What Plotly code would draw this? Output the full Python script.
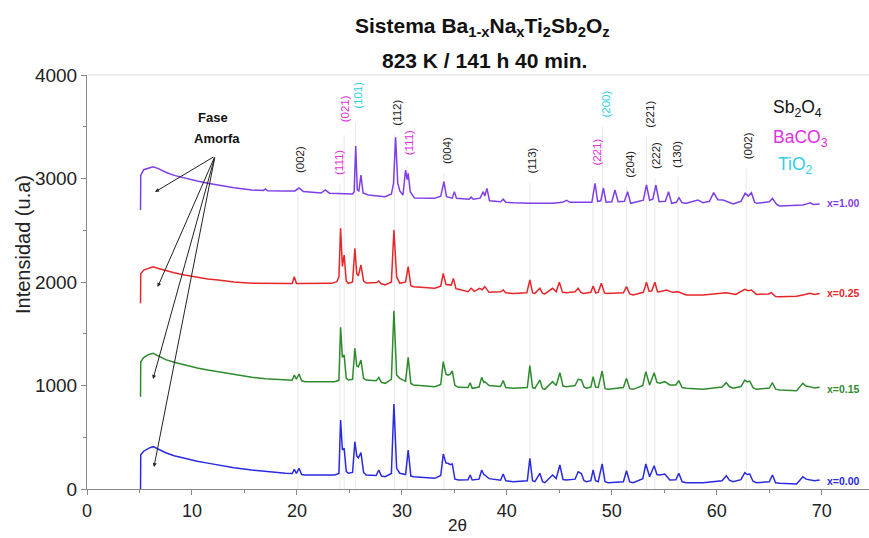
import plotly.graph_objects as go

# ---------------- data ----------------
tt_100 = [5.1, 5.12, 5.4, 5.9, 6.3, 6.8, 7.5, 8.3, 9.3, 10.5,
          11.5, 12.5, 14.0, 15.7, 16.8, 17.0, 17.2, 18.9, 19.8, 20.2,
          20.6, 22.3, 22.7, 23.1, 25.3, 25.45, 25.6, 25.75, 25.9, 26.1,
          26.3, 26.8, 28.4, 29.0, 29.2, 29.4, 29.6, 29.8, 30.1, 30.35,
          30.5, 30.6, 30.8, 31.2, 33.1, 33.7, 34.0, 34.25, 34.8, 35.0,
          35.2, 36.4, 36.6, 36.8, 37.45, 37.75, 37.9, 38.1, 38.35, 39.4,
          39.65, 39.9, 40.6, 42.2, 44.4, 45.3, 45.7, 46.0, 47.6, 48.1,
          48.4, 48.65, 48.95, 49.2, 49.45, 50.0, 50.3, 50.6, 51.2, 51.5,
          51.8, 53.0, 53.3, 53.6, 53.9, 54.2, 54.5, 55.1, 55.4, 55.7,
          56.15, 56.4, 56.7, 57.1, 58.2, 58.7, 59.3, 59.7, 60.1, 60.6,
          61.55, 62.3, 62.7, 63.0, 63.3, 63.6, 63.8, 65.0, 65.3, 65.7,
          66.0, 67.6, 68.2, 68.6, 68.9, 69.2, 69.8]
ii_100 = [2696, 3030, 3085, 3105, 3114, 3095, 3060, 3030, 3002, 2975,
          2955, 2937, 2910, 2889, 2885, 2900, 2882, 2879, 2880, 2908,
          2875, 2860, 2889, 2858, 2850, 2870, 3314, 2890, 2880, 3034,
          2860, 2841, 2824, 2850, 2950, 3398, 2960, 2880, 2840, 3082,
          2990, 3050, 2870, 2811, 2808, 2830, 2969, 2825, 2810, 2873,
          2808, 2800, 2820, 2800, 2810, 2873, 2830, 2905, 2785, 2775,
          2800, 2770, 2765, 2762, 2760, 2770, 2790, 2770, 2766, 2770,
          2954, 2780, 2785, 2908, 2770, 2775, 2889, 2776, 2780, 2873,
          2760, 2790, 2937, 2790, 2800, 2937, 2776, 2780, 2873, 2760,
          2770, 2815, 2765, 2760, 2792, 2766, 2780, 2863, 2795, 2792,
          2754, 2780, 2857, 2830, 2863, 2770, 2760, 2775, 2808, 2750,
          2734, 2744, 2744, 2755, 2766, 2750, 2754]

tt_025 = [5.1, 5.12, 5.4, 5.9, 6.3, 6.8, 7.5, 8.3, 9.3, 10.5,
          11.5, 12.5, 14.0, 15.7, 18.9, 19.55, 19.75, 19.95, 23.3, 23.8,
          24.0, 24.16, 24.33, 24.5, 24.7, 24.9, 25.3, 25.52, 25.7, 25.85,
          26.1, 26.35, 26.6, 27.6, 27.8, 28.0, 28.4, 29.0, 29.24, 29.5,
          29.8, 30.35, 30.6, 30.85, 31.1, 33.14, 33.7, 33.94, 34.2, 34.4,
          34.7, 34.9, 35.15, 35.4, 36.3, 36.6, 36.9, 37.4, 37.65, 37.9,
          38.3, 39.4, 39.65, 39.9, 40.6, 41.9, 42.19, 42.45, 42.67, 43.14,
          43.4, 43.62, 44.35, 44.7, 45.0, 45.3, 45.68, 46.5, 46.79, 47.05,
          47.3, 48.0, 48.22, 48.45, 48.7, 49.0, 49.3, 49.5, 51.1, 51.4,
          51.7, 52.03, 53.0, 53.3, 53.55, 53.8, 54.1, 54.35, 54.57, 55.2,
          55.8, 56.3, 57.1, 58.7, 60.9, 61.8, 62.67, 63.0, 63.3, 63.78,
          64.9, 65.2, 65.6, 66.0, 67.6, 68.2, 68.86, 69.3, 69.8]
ii_025 = [1794, 2080, 2115, 2135, 2148, 2130, 2110, 2090, 2068, 2045,
          2030, 2019, 2000, 1987, 1981, 1985, 2051, 1985, 1987, 2003,
          2050, 2519, 2150, 2261, 2010, 1987, 2000, 2325, 2080, 2060,
          2164, 2010, 1990, 1995, 2010, 1985, 1971, 2000, 2502, 2050,
          1987, 2000, 2148, 1965, 1955, 1939, 1960, 2084, 1975, 1971,
          1970, 2035, 1935, 1930, 1906, 1939, 1910, 1939, 1925, 1955,
          1900, 1905, 1923, 1895, 1890, 1895, 2019, 1895, 1890, 1939,
          1890, 1885, 1939, 1905, 1997, 1900, 1897, 1905, 1939, 1900,
          1890, 1900, 1961, 1895, 1900, 1987, 1895, 1890, 1895, 1955,
          1885, 1874, 1900, 1997, 1910, 1912, 1997, 1906, 1906, 1923,
          1900, 1906, 1874, 1874, 1897, 1880, 1929, 1915, 1923, 1880,
          1885, 1897, 1860, 1858, 1862, 1875, 1890, 1880, 1890]

tt_015 = [5.1, 5.12, 5.4, 5.9, 6.3, 6.8, 7.5, 8.3, 9.3, 10.5,
          11.5, 12.5, 14.0, 15.7, 17.0, 18.9, 19.55, 19.75, 19.95, 20.2,
          20.45, 20.76, 23.6, 24.0, 24.16, 24.33, 24.5, 24.7, 24.9, 25.3,
          25.52, 25.7, 25.85, 26.1, 26.35, 26.6, 27.55, 27.8, 28.05, 28.4,
          29.0, 29.24, 29.5, 29.8, 30.35, 30.6, 30.85, 31.1, 33.14, 33.7,
          33.94, 34.2, 34.4, 34.6, 34.8, 35.05, 35.4, 36.3, 36.5, 36.7,
          37.35, 37.6, 37.8, 37.9, 38.3, 39.4, 39.65, 39.9, 40.6, 41.95,
          42.19, 42.45, 42.67, 43.14, 43.4, 43.62, 44.35, 44.7, 45.05, 45.35,
          45.68, 46.5, 46.79, 47.1, 47.35, 47.6, 48.0, 48.22, 48.45, 48.7,
          49.08, 49.35, 49.65, 51.1, 51.4, 51.7, 52.03, 52.95, 53.24, 53.6,
          54.03, 54.3, 54.57, 55.05, 55.52, 56.1, 56.38, 56.7, 57.1, 58.7,
          60.5, 60.9, 61.2, 61.55, 62.3, 62.67, 62.9, 63.14, 63.45, 63.78,
          65.0, 65.3, 65.6, 66.0, 67.6, 68.2, 68.5, 68.86, 69.3, 69.8]
ii_015 = [892, 1230, 1270, 1300, 1311, 1285, 1250, 1225, 1198, 1170,
          1150, 1134, 1105, 1079, 1065, 1053, 1050, 1101, 1060, 1111,
          1045, 1037, 1037, 1050, 1562, 1272, 1295, 1070, 1053, 1060,
          1359, 1190, 1180, 1246, 1070, 1053, 1045, 1079, 1030, 1021,
          1060, 1723, 1100, 1069, 1040, 1272, 1020, 1005, 989, 1010,
          1230, 1110, 1100, 1110, 1140, 1000, 982, 980, 1027, 973,
          985, 1079, 1030, 1037, 1000, 990, 1047, 980, 973, 980,
          1192, 980, 973, 1053, 970, 963, 1037, 1000, 1124, 995,
          989, 1000, 1060, 1053, 985, 973, 985, 1085, 985, 982,
          1140, 970, 963, 980, 1069, 970, 963, 1000, 1134, 1005,
          1124, 1030, 1021, 1037, 1005, 1005, 1047, 980, 973, 963,
          985, 1027, 990, 973, 990, 1053, 1035, 1043, 980, 963,
          975, 1027, 965, 957, 950, 1021, 995, 989, 975, 982]

tt_000 = [5.1, 5.12, 5.4, 5.9, 6.3, 6.8, 7.5, 8.3, 9.3, 10.5,
          11.5, 12.5, 14.0, 15.7, 17.0, 18.9, 19.55, 19.75, 19.95, 20.2,
          20.45, 20.76, 23.6, 24.0, 24.16, 24.33, 24.5, 24.7, 24.9, 25.3,
          25.52, 25.7, 25.85, 26.1, 26.35, 26.6, 27.55, 27.8, 28.05, 28.4,
          29.0, 29.24, 29.5, 29.8, 30.35, 30.6, 30.85, 31.1, 33.14, 33.7,
          33.94, 34.2, 34.4, 34.6, 34.8, 35.05, 35.4, 36.3, 36.5, 36.7,
          37.35, 37.6, 37.8, 37.9, 38.3, 39.4, 39.65, 39.9, 40.6, 41.95,
          42.19, 42.45, 42.67, 43.14, 43.4, 43.62, 44.35, 44.7, 45.05, 45.35,
          45.68, 46.5, 46.79, 47.1, 47.35, 47.6, 48.0, 48.22, 48.45, 48.7,
          49.08, 49.35, 49.65, 51.1, 51.4, 51.7, 52.03, 52.95, 53.24, 53.6,
          54.03, 54.3, 54.57, 55.05, 55.52, 56.1, 56.38, 56.7, 57.1, 58.7,
          60.5, 60.9, 61.2, 61.55, 62.3, 62.67, 62.9, 63.14, 63.45, 63.78,
          65.0, 65.3, 65.6, 66.0, 67.6, 68.2, 68.5, 68.86, 69.3, 69.8]
ii_000 = [0, 330, 365, 395, 409, 385, 350, 322, 296, 268,
          250, 232, 205, 184, 168, 152, 150, 190, 150, 200,
          140, 135, 135, 150, 667, 377, 393, 170, 152, 160,
          457, 320, 300, 351, 160, 135, 130, 184, 125, 119,
          150, 821, 200, 152, 140, 377, 125, 119, 103, 130,
          338, 250, 248, 235, 242, 95, 87, 90, 135, 87,
          95, 184, 140, 135, 100, 85, 145, 80, 71, 80,
          296, 80, 71, 152, 70, 61, 135, 100, 232, 92,
          87, 95, 167, 150, 80, 71, 80, 184, 80, 71,
          242, 70, 61, 70, 177, 68, 61, 100, 242, 119,
          225, 140, 135, 145, 87, 90, 152, 70, 61, 61,
          80, 129, 85, 71, 90, 158, 140, 145, 75, 61,
          70, 135, 60, 55, 48, 119, 95, 87, 80, 87]

series_names = ["x=1.00", "x=0.25", "x=0.15", "x=0.00"]
series_x = [tt_100, tt_025, tt_015, tt_000]
series_y = [ii_100, ii_025, ii_015, ii_000]
series_colors = ["#7f3fe6", "#e8262a", "#2e8b2e", "#2a2ae0"]
label_y = [2763, 1897, 966, 77]

# peak labels: text, 2theta position, intensity (centre of label), phase
peak_text = ["(002)", "(111)", "(021)", "(101)", "(112)", "(111)", "(004)", "(113)",
             "(221)", "(200)", "(204)", "(221)", "(222)", "(130)", "(002)"]
peak_pos = [20.3, 24.0, 24.6, 25.8, 29.55, 30.7, 34.25, 42.4,
            48.5, 49.4, 51.7, 53.6, 54.2, 56.2, 63.0]
peak_lab_y = [3179, 3159, 3671, 3807, 3638, 3343, 3270, 3174,
              3251, 3720, 3140, 3623, 3227, 3237, 3314]
peak_phase = ["Sb2O4", "BaCO3", "BaCO3", "TiO2", "Sb2O4", "BaCO3", "Sb2O4", "Sb2O4",
              "BaCO3", "TiO2", "Sb2O4", "Sb2O4", "Sb2O4", "Sb2O4", "Sb2O4"]
phase_colors = {"Sb2O4": "#222222", "BaCO3": "#e030e0", "TiO2": "#30d0e6"}

# guide lines at peak positions
guide_pos = [20.1, 24.1, 24.5, 25.6, 29.3, 30.5, 34.0, 42.2, 48.2, 49.1, 51.4, 53.3, 54.1, 56.3, 62.8]
guide_top = [2950, 2950, 3420, 3540, 3420, 3120, 3050, 2960, 3030, 3500, 2920, 3400, 3000, 3020, 3100]

# "Fase Amorfa" arrow targets
arrow_tail = (12.2, 3217)
arrow_heads = [(6.48, 2870), (6.73, 1952), (6.29, 1063), (6.38, 213)]

FONT = "Arial, Liberation Sans, Helvetica, sans-serif"

fig = go.Figure()

for gx, gt in zip(guide_pos, guide_top):
    fig.add_shape(type="line", x0=gx, x1=gx, y0=0, y1=gt, xref="x", yref="y",
                  line=dict(color="rgba(180,180,180,0.3)", width=1), layer="below")

for xs, ys, col, nm in zip(series_x, series_y, series_colors, series_names):
    fig.add_trace(go.Scatter(x=xs, y=ys, mode="lines", name=nm,
                             line=dict(color=col, width=1.5), showlegend=False))

ann = []
for nm, col, ly in zip(series_names, series_colors, label_y):
    ann.append(dict(x=70.3, y=ly, xref="x", yref="y", text="<b>%s</b>" % nm, showarrow=False,
                    xanchor="left", yanchor="middle", font=dict(size=10.5, color=col, family=FONT)))

for t, px, py, ph in zip(peak_text, peak_pos, peak_lab_y, peak_phase):
    ann.append(dict(x=px, y=py, xref="x", yref="y", text=t, showarrow=False, textangle=-90,
                    xanchor="center", yanchor="middle",
                    font=dict(size=11.5, color=phase_colors[ph], family=FONT)))

# phase legend
ann.append(dict(x=797, y=108, text="Sb<sub>2</sub>O<sub>4</sub>", font=dict(size=17.5, color="#111111", family=FONT)))
ann.append(dict(x=800, y=138, text="BaCO<sub>3</sub>", font=dict(size=17.5, color="#e030e0", family=FONT)))
ann.append(dict(x=795, y=165, text="TiO<sub>2</sub>", font=dict(size=17.5, color="#30d0e6", family=FONT)))

# Fase Amorfa
ann.append(dict(x=213, y=117, text="<b>Fase</b>", font=dict(size=13, color="#111111", family=FONT)))
ann.append(dict(x=217, y=138, text="<b>Amorfa</b>", font=dict(size=13, color="#111111", family=FONT)))

# titles
ann.append(dict(x=482, y=27, text="<b>Sistema Ba<sub>1-x</sub>Na<sub>x</sub>Ti<sub>2</sub>Sb<sub>2</sub>O<sub>z</sub></b>",
                font=dict(size=21, color="#111111", family=FONT)))
ann.append(dict(x=484, y=60, text="<b>823 K / 141 h 40 min.</b>", font=dict(size=21, color="#111111", family=FONT)))
ann.append(dict(x=23, y=245, text="Intensidad (u.a)", textangle=-90, font=dict(size=20, color="#222222", family=FONT)))
ann.append(dict(x=457, y=525, text="2θ", font=dict(size=17, color="#222222", family=FONT)))

# convert pixel-positioned annotations to paper coordinates
L, T, W, H = 87, 75, 782, 414
final = []
for a in ann:
    if "xref" not in a:
        px, py = a["x"], a["y"]
        a = dict(a)
        a["x"] = (px - L) / W
        a["y"] = (T + H - py) / H
        a["xref"] = "paper"
        a["yref"] = "paper"
        a["showarrow"] = False
        a["xanchor"] = "center"
        a["yanchor"] = "middle"
    final.append(a)

for hx, hy in arrow_heads:
    final.append(dict(x=hx, y=hy, ax=arrow_tail[0], ay=arrow_tail[1], xref="x", yref="y",
                      axref="x", ayref="y", showarrow=True, arrowhead=2, arrowsize=0.8,
                      arrowwidth=1, arrowcolor="#222222", text=""))

fig.update_layout(
    width=869, height=538,
    margin=dict(l=87, r=0, t=75, b=49, autoexpand=False),
    paper_bgcolor="white", plot_bgcolor="white",
    annotations=final,
    showlegend=False,
    xaxis=dict(range=[0, 74.5], tickvals=[0, 10, 20, 30, 40, 50, 60, 70], ticks="outside", ticklen=5,
               tickcolor="#888888", showline=True, linecolor="#888888", linewidth=1,
               showgrid=False, zeroline=False, automargin=False,
               minor=dict(dtick=5, tick0=0, ticks="outside", ticklen=3, tickcolor="#888888"),
               tickfont=dict(size=18, color="#222222", family=FONT)),
    yaxis=dict(range=[0, 4000], tickvals=[0, 1000, 2000, 3000, 4000], ticks="outside", ticklen=5,
               tickcolor="#888888", showline=True, linecolor="#888888", linewidth=1,
               showgrid=False, zeroline=False, automargin=False,
               minor=dict(dtick=500, tick0=0, ticks="outside", ticklen=3, tickcolor="#888888"),
               tickfont=dict(size=19, color="#222222", family=FONT)),
)
fig.add_shape(type="line", xref="paper", yref="paper", x0=0, x1=1, y0=1, y1=1,
              line=dict(color="#dddddd", width=1))

fig.write_html("out.html", config={"displayModeBar": False},
               post_script="document.body.style.margin='0px';document.body.style.padding='0px';")
